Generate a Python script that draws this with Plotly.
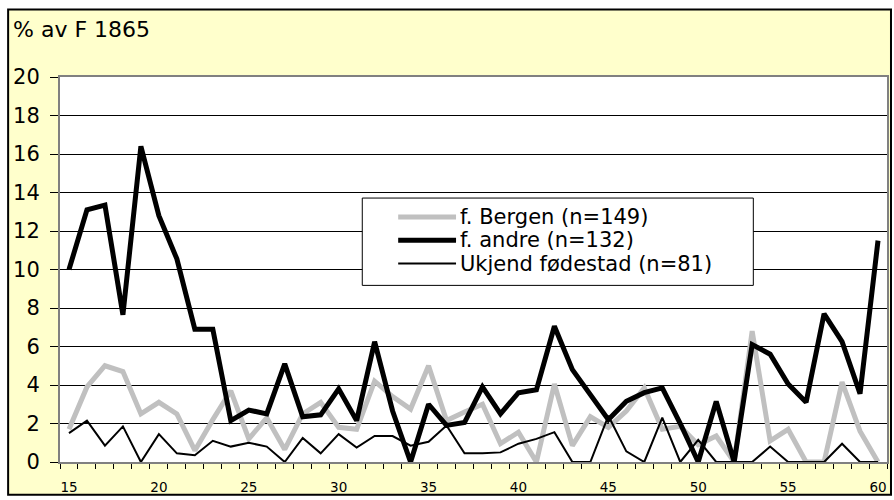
import plotly.graph_objects as go

ages = list(range(15, 61))

bergen = [1.7, 3.9, 5.0, 4.7, 2.5, 3.1, 2.5, 0.6, 2.2, 3.7,
          1.2, 2.3, 0.65, 2.5, 3.1, 1.8, 1.7, 4.2, 3.4, 2.75,
          5.0, 2.15, 2.6, 3.0, 0.95, 1.55, 0.0, 4.05, 0.85, 2.35,
          1.8, 2.65, 3.85, 1.7, 1.85, 0.9, 1.35, 0.0, 6.8, 1.1,
          1.7, 0.0, 0.0, 4.15, 1.6, 0.0]

andre = [10.0, 13.1, 13.35, 7.65, 16.4, 12.8, 10.55, 6.9, 6.9, 2.15,
         2.7, 2.5, 5.1, 2.35, 2.45, 3.8, 2.15, 6.25, 2.65, 0.0,
         3.0, 1.9, 2.05, 3.9, 2.5, 3.6, 3.75, 7.05, 4.8, 3.45,
         2.2, 3.15, 3.6, 3.85, 2.0, 0.0, 3.15, 0.0, 6.1, 5.6,
         4.05, 3.1, 7.7, 6.25, 3.55, 11.5]

ukjend = [1.5, 2.15, 0.85, 1.85, 0.0, 1.45, 0.45, 0.35, 1.1, 0.8,
          1.0, 0.8, 0.0, 1.25, 0.45, 1.45, 0.75, 1.35, 1.35, 0.85,
          1.05, 1.9, 0.45, 0.45, 0.5, 0.95, 1.2, 1.55, 0.0, 0.0,
          2.4, 0.55, 0.0, 2.3, 0.0, 1.15, 0.0, 0.0, 0.0, 0.8,
          0.0, 0.0, 0.0, 0.95, 0.0, 0.0]

x_tickvals = [15, 20, 25, 30, 35, 40, 45, 50, 55, 60]
x_ticktext = [str(v) for v in x_tickvals]
y_tickvals = list(range(0, 21, 2))

series_names = ["f. Bergen (n=149)", "f. andre (n=132)", "Ukjend fødestad (n=81)"]
series_colors = ["#C0C0C0", "#000000", "#000000"]
series_widths = [5, 5, 2]
title_text = "% av F 1865"

FONT = "DejaVu Sans"

fig = go.Figure()
for name, vals, col, wd in zip(series_names, [bergen, andre, ukjend],
                               series_colors, series_widths):
    fig.add_trace(go.Scatter(x=ages, y=vals, mode="lines", name=name,
                             line=dict(color=col, width=wd), showlegend=False))

W, H = 894, 500
L, R, T, B = 60, 5, 77, 35
pw = W - L - R
ph = H - T - B

def px_x(px):
    return (px - L) / pw

def px_y(py):
    return (H - B - py) / ph

# chart frame
fig.add_shape(type="rect", xref="paper", yref="paper",
              x0=px_x(8), x1=px_x(893), y0=px_y(498), y1=px_y(9),
              fillcolor="#FFFFCC", line=dict(color="black", width=2), layer="below")
fig.add_shape(type="rect", xref="paper", yref="paper",
              x0=0, x1=1, y0=0, y1=1,
              fillcolor="white", line=dict(width=0), layer="below")

fig.add_annotation(text=title_text, xref="paper", yref="paper",
                   x=px_x(11), y=px_y(29), xanchor="left", yanchor="middle",
                   showarrow=False, font=dict(family=FONT, size=22, color="black"))

# legend box (drawn to match the original's boxed legend)
fig.add_shape(type="rect", xref="paper", yref="paper",
              x0=px_x(363), x1=px_x(755), y0=px_y(287), y1=px_y(199),
              fillcolor="white", line=dict(color="black", width=1), layer="above")
row_y = [218, 241.5, 265]
for i, name in enumerate(series_names):
    fig.add_shape(type="line", xref="paper", yref="paper",
                  x0=px_x(399), x1=px_x(457), y0=px_y(row_y[i]), y1=px_y(row_y[i]),
                  line=dict(color=series_colors[i], width=series_widths[i]), layer="above")
    fig.add_annotation(text=name, xref="paper", yref="paper",
                       x=px_x(459), y=px_y(row_y[i]), xanchor="left", yanchor="middle",
                       showarrow=False, font=dict(family=FONT, size=21, color="black"))

fig.update_layout(
    width=W, height=H,
    margin=dict(l=L, r=R, t=T, b=B),
    paper_bgcolor="white",
    plot_bgcolor="rgba(0,0,0,0)",
    font=dict(family=FONT, color="black"),
    showlegend=False,
    xaxis=dict(range=[14.5, 60.5], tickmode="array", tickvals=x_tickvals,
               ticktext=x_ticktext, ticks="", showgrid=False, zeroline=False,
               showline=True, linecolor="#808080", linewidth=2, mirror=True,
               tickfont=dict(family=FONT, size=13.5, color="black"),
               ticklabelstandoff=12,
               minor=dict(tickmode="linear", tick0=14.5, dtick=1, ticks="outside",
                          ticklen=5, tickcolor="black", tickwidth=1, showgrid=False)),
    yaxis=dict(range=[0, 20], tickmode="array", tickvals=y_tickvals,
               ticks="outside", ticklen=8, tickcolor="black", tickwidth=1,
               showgrid=True, gridcolor="black", gridwidth=1, zeroline=False,
               showline=True, linecolor="#808080", linewidth=2, mirror=True,
               tickfont=dict(family=FONT, size=21, color="black"),
               ticklabelstandoff=6),
)

fig.write_html("out.html", config={"displayModeBar": False},
               post_script="document.body.style.margin='0';document.body.style.padding='0';")
